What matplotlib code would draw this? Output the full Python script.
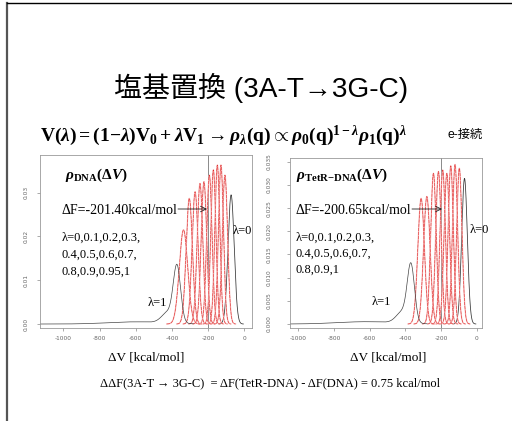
import numpy as np
import matplotlib.pyplot as plt
from matplotlib.lines import Line2D

# ---- data ----
# peak position / height of each lambda window, ordered lambda = 0 ... 1
dna_lambda = [0, 0.1, 0.2, 0.3, 0.4, 0.5, 0.6, 0.7, 0.8, 0.9, 0.95, 1]
dna_centers = [-73, -107, -129, -149, -171, -193, -223, -245, -272, -304, -336, -372]
dna_heights = [0.0295, 0.0340, 0.0363, 0.0363, 0.0352, 0.0340, 0.0325, 0.0321, 0.0302, 0.0287, 0.0215, 0.0125]
dna_tail_centers = [-420, -600]
dna_tail_heights = [0.0025, 0.0005]
dna_tail_widths = [35, 150]

tetr_lambda = [0, 0.1, 0.2, 0.3, 0.4, 0.5, 0.6, 0.7, 0.8, 0.9, 1]
tetr_centers = [-69, -98, -122, -146, -168, -191, -215, -243, -280, -312, -369]
tetr_heights = [0.0314, 0.0336, 0.0344, 0.0341, 0.0325, 0.0332, 0.0329, 0.0325, 0.0275, 0.0271, 0.0120]
tetr_tail_centers = [-415, -620]
tetr_tail_heights = [0.0025, 0.0005]
tetr_tail_widths = [35, 160]

dna_dF = "-201.40"
tetr_dF = "-200.65"
xticks = [-1000, -800, -600, -400, -200, 0]

W, H = 512, 421
fig = plt.figure(figsize=(W / 100, H / 100), dpi=100)
plt.rcParams['mathtext.fontset'] = 'custom'
plt.rcParams['mathtext.rm'] = 'Liberation Serif:bold'
plt.rcParams['mathtext.bf'] = 'Liberation Serif:bold'
plt.rcParams['mathtext.it'] = 'Liberation Serif:italic:bold'

SANS = ['Liberation Sans', 'Noto Sans CJK JP']
SERIF = ['Liberation Serif', 'DejaVu Serif']


def fx(x):
    return x / W


def fy(y):
    return 1 - y / H


# slide frame
fig.add_artist(Line2D([fx(7), fx(7)], [fy(3), 0], color='#555555', lw=1.6))
fig.add_artist(Line2D([fx(7), 1], [fy(3.3), fy(3.3)], color='black', lw=1.0))

fig.text(fx(261), fy(88), '塩基置換 (3A-T→3G-C)', ha='center', va='center',
         fontsize=20.2, family=SANS)
eq = (r'$\mathrm{V}(\lambda)=(1\mathrm{-}\lambda)\mathrm{V}_0+\lambda\mathrm{V}_1'
      r'\rightarrow\rho_\lambda(\mathrm{q})\propto\rho_0(\mathrm{q})^{1-\lambda}'
      r'\rho_1(\mathrm{q})^\lambda$')
fig.text(fx(40), fy(136), eq, ha='left', va='center', fontsize=14)
fig.text(fx(447), fy(135), 'e-接続', ha='left', va='center', fontsize=8.8, family=SANS)


def gauss(x, c, h, s):
    return h * np.exp(-0.5 * ((x - c) / s) ** 2)


def panel(box, xlim, ylim, yticks, yfmt, ypad, centers, heights,
          tc, th, tw):
    x0, x1, top, bot = box
    ax = fig.add_axes([fx(x0), fy(bot), (x1 - x0) / W, (bot - top) / H])
    ax.set_xlim(xlim)
    ax.set_ylim(ylim)
    for sp in ax.spines.values():
        sp.set_color('#9a9a9a')
        sp.set_linewidth(0.6)
    ax.set_xticks(xticks)
    ax.set_xticklabels([str(t) for t in xticks])
    ax.set_yticks(yticks)
    ax.set_yticklabels([yfmt % t for t in yticks])
    ax.tick_params(axis='both', length=2, width=0.5, color='#888888',
                   labelsize=4.2, labelcolor='#666666')
    ax.tick_params(axis='x', pad=4)
    ax.tick_params(axis='y', pad=ypad, labelrotation=90)
    for lab in ax.get_yticklabels():
        lab.set_va('center')

    ax.axvline(-200, color='#777777', lw=0.6)
    n = len(centers)
    for i in range(n):
        c, h = centers[i], heights[i]
        if i == n - 1:
            # lambda = 1: main peak plus long low-energy tail
            x = np.linspace(xlim[0], c + 90, 1500)
            y = gauss(x, c, h, 20)
            for k in range(len(tc)):
                y = y + gauss(x, tc[k], th[k], tw[k])
            ax.plot(x, y, color='#444444', lw=0.5)
        else:
            s = 1.25 / (h * np.sqrt(2 * np.pi))
            x = np.linspace(c - 4 * s, c + 4 * s, 300)
            if i == 0:
                ax.plot(x, gauss(x, c, h, s), color='#333333', lw=0.55)
            else:
                ax.plot(x, gauss(x, c, h, s), color='#f6b8b8', lw=0.9)
                ax.plot(x, gauss(x, c, h, s), color='#e02828', lw=0.4,
                        dashes=(6, 1.5))
    return ax


panel((40, 252, 155, 328), (-1129, 42.5), (-0.00091, 0.0386),
      [0, 0.01, 0.02, 0.03], '%.2f', 6,
      dna_centers, dna_heights, dna_tail_centers, dna_tail_heights, dna_tail_widths)
panel((290, 482, 158, 328), (-1046.5, 29), (-0.00086, 0.0358),
      [0, 0.005, 0.01, 0.015, 0.02, 0.025, 0.03, 0.035], '%.3f', 11,
      tetr_centers, tetr_heights, tetr_tail_centers, tetr_tail_heights, tetr_tail_widths)

# labels inside panels
fig.text(fx(65), fy(175), r'$\rho_{\mathrm{DNA}}(\Delta V)$', ha='left', va='center', fontsize=11)
fig.text(fx(296), fy(175), r'$\rho_{\mathrm{TetR{-}DNA}}(\Delta V)$', ha='left', va='center', fontsize=11)

for xl, ytxt, dF, xa0, xa1 in [(62, 210, dna_dF, 178, 207), (296, 211, tetr_dF, 412, 442)]:
    fig.text(fx(xl), fy(ytxt), 'ΔF=%skcal/mol' % dF, ha='left', va='center',
             fontsize=10, family=SERIF)
    fig.add_artist(plt.Annotation('', xy=(fx(xa1), fy(209)), xytext=(fx(xa0), fy(209)),
                                  xycoords='figure fraction', textcoords='figure fraction',
                                  arrowprops=dict(arrowstyle='->', lw=0.6, color='#222222',
                                                  shrinkA=0, shrinkB=0)))

dna_lines = ['λ=0,0.1,0.2,0.3,', '0.4,0.5,0.6,0.7,', '0.8,0.9,0.95,1']
tetr_lines = ['λ=0,0.1,0.2,0.3,', '0.4,0.5,0.6,0.7,', '0.8,0.9,1']
for i, s in enumerate(dna_lines):
    fig.text(fx(62), fy(238 + 17 * i), s, ha='left', va='center', fontsize=9, family=SERIF)
for i, s in enumerate(tetr_lines):
    fig.text(fx(296), fy(238 + 16 * i), s, ha='left', va='center', fontsize=9, family=SERIF)

fig.text(fx(233), fy(231), 'λ=0', ha='left', va='center', fontsize=9, family=SERIF)
fig.text(fx(148), fy(303), 'λ=1', ha='left', va='center', fontsize=9, family=SERIF)
fig.text(fx(470), fy(230), 'λ=0', ha='left', va='center', fontsize=9, family=SERIF)
fig.text(fx(372), fy(302), 'λ=1', ha='left', va='center', fontsize=9, family=SERIF)

fig.text(fx(146), fy(357), 'ΔV [kcal/mol]', ha='center', va='center', fontsize=9.5, family=SERIF)
fig.text(fx(388), fy(357), 'ΔV [kcal/mol]', ha='center', va='center', fontsize=9.5, family=SERIF)

fig.text(fx(270), fy(383),
         'ΔΔF(3A-T → 3G-C)  = ΔF(TetR-DNA) - ΔF(DNA) = 0.75 kcal/mol',
         ha='center', va='center', fontsize=9, family=SERIF)

fig.savefig('out.png', dpi=100, facecolor='white')
